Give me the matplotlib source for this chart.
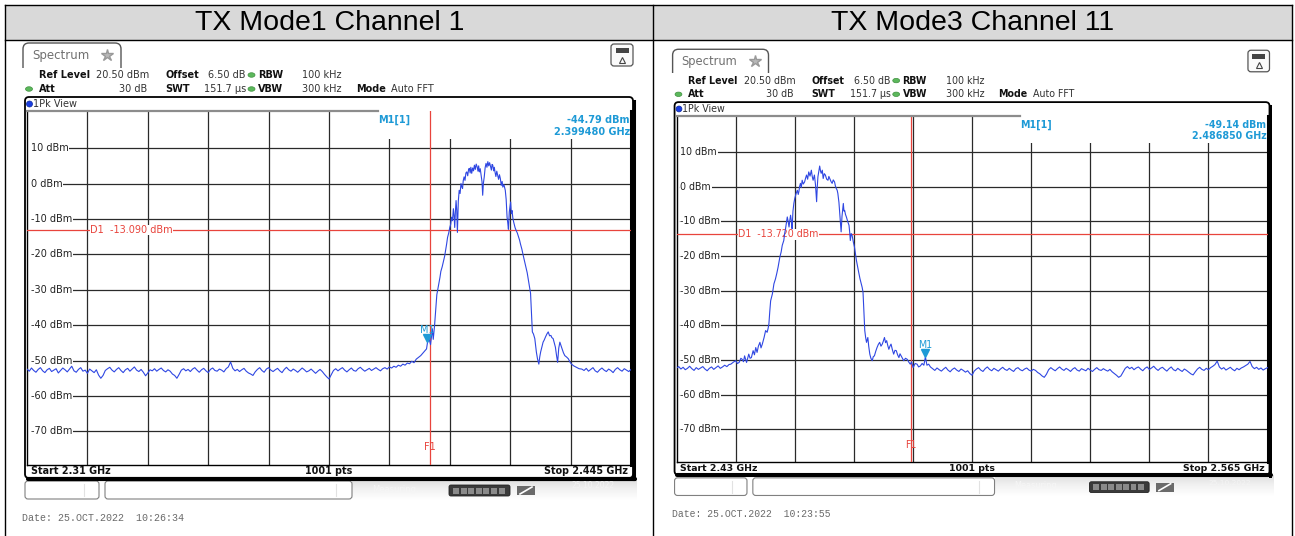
#!/usr/bin/env python3
"""Band-edge spectrum screenshots: TX Mode1 Channel 1 / TX Mode3 Channel 11."""

from __future__ import annotations

import matplotlib

matplotlib.use("Agg")
import matplotlib.pyplot as plt
import numpy as np
from matplotlib import transforms
from matplotlib.colors import LinearSegmentedColormap
from matplotlib.patches import Ellipse, FancyBboxPatch, Rectangle

W, H = 1295, 536
NOISE_STEP = 0.5  # MHz between read-off noise floor samples

LEVEL_TICKS = [10, 0, -10, -20, -30, -40, -50, -60, -70]
REF_LEVEL = 20.5
BOTTOM_LEVEL = -79.5

INFO_ROW1 = ["Ref Level", "20.50 dBm", "Offset", "6.50 dB", "RBW", "100 kHz"]
INFO_ROW2 = ["Att", "30 dB", "SWT", "151.7 µs", "VBW", "300 kHz", "Mode", "Auto FFT"]

# ---------------- TX Mode1 Channel 1 ----------------
CH1_TITLE = "TX Mode1 Channel 1"
CH1_SPAN = (2310.0, 2445.0)
CH1_FOOT = ["Start 2.31 GHz", "1001 pts", "Stop 2.445 GHz"]
CH1_D1 = -13.090
CH1_F1 = 2400.0
CH1_M1 = (2399.480, -44.79)
CH1_M1_TEXT = ["-44.79 dBm", "2.399480 GHz"]
CH1_DATE = "Date: 25.OCT.2022  10:26:34"

CH1_NOISE_LO_START = 2310.0
CH1_NOISE_LO = [
    -52.4, -53.0, -52.1, -52.8, -53.3, -52.5, -52.0, -52.9, -53.4, -52.6,
    -52.2, -53.1, -52.7, -52.3, -53.5, -52.8, -52.1, -52.6, -53.2, -52.4,
    -51.6, -52.9, -53.3, -52.5, -52.0, -53.0, -52.7, -53.6, -52.4, -52.9,
    -53.4, -52.6, -54.1, -55.0, -54.2, -52.8, -52.3, -51.9, -52.7, -53.2,
    -52.5, -52.0, -52.8, -53.4, -52.6, -52.2, -53.0, -52.4, -51.8, -52.7,
    -53.1, -52.5, -53.3, -54.3, -53.5, -52.6, -52.9, -52.3, -53.0, -52.5,
    -52.1, -52.8, -53.2, -52.6, -53.0, -53.8, -54.2, -55.0, -53.9, -52.7,
    -52.3, -52.9, -52.5, -53.1, -52.4, -52.0, -52.7, -53.3, -52.6, -52.2,
    -52.9, -53.4, -52.5, -52.1, -52.8, -53.0, -52.4, -52.7, -53.2, -52.3,
    -51.8, -50.4, -52.2, -52.9, -52.5, -53.1, -52.6, -52.2, -53.0, -53.5,
    -53.8, -54.2, -53.2, -52.5, -52.0, -52.8, -53.3, -52.4, -52.0, -52.7,
    -53.1, -52.6, -52.2, -52.9, -53.4, -52.5, -51.9, -52.6, -53.0, -52.4,
    -52.8, -53.3, -52.7, -52.1, -52.6, -53.2, -52.9, -52.4, -53.0, -53.6,
    -53.0, -52.5, -53.1, -53.9, -54.6, -55.2, -54.0, -52.8, -52.3, -52.9,
    -52.4, -52.0, -52.7, -53.2, -52.6, -52.1, -52.8, -53.0, -52.3, -51.9,
    -52.5, -53.0, -52.6, -52.2, -52.8, -52.4, -52.0, -52.5, -52.9, -52.3,
    -52.0, -52.4, -51.8, -52.1, -51.6, -51.9, -51.3, -51.6, -51.0, -51.3,
    -50.7, -50.9,
]
CH1_EDGE = [
    (2396.0, -50.2), (2396.5, -50.6), (2397.0, -49.6), (2397.6, -49.0), (2398.0, -48.6),
    (2398.35, -48.1), (2398.8, -47.5), (2399.3, -46.7), (2399.5, -45.0), (2399.85, -43.8),
    (2400.2, -45.5), (2400.6, -41.0), (2400.8, -44.0), (2401.1, -40.0), (2401.4, -35.0),
    (2401.6, -31.4), (2401.8, -30.0), (2402.1, -28.0), (2402.3, -26.5), (2402.5, -24.8),
    (2402.8, -23.5), (2403.1, -21.9), (2403.35, -20.5), (2403.6, -18.6), (2403.8, -17.0),
    (2404.0, -15.2), (2404.25, -14.0), (2404.5, -12.4), (2404.7, -11.5), (2404.9, -9.5),
    (2405.1, -10.5), (2405.3, -7.1), (2405.45, -9.0), (2405.6, -12.4), (2405.75, -8.0),
    (2405.9, -4.8), (2406.05, -7.5), (2406.2, -13.8), (2406.4, -5.0), (2406.6, -1.9),
    (2406.8, -2.8), (2407.0, 0.0), (2407.2, -1.0), (2407.35, -1.4), (2407.5, 0.8),
    (2407.7, 1.9), (2407.9, 0.9), (2408.1, 3.0), (2408.3, 3.3), (2408.5, 2.2),
    (2408.7, 4.0), (2408.85, 4.3), (2409.05, 3.0), (2409.2, 4.6), (2409.4, 2.9),
    (2409.6, 4.4), (2409.8, 3.6), (2410.0, 5.2), (2410.2, 4.0), (2410.4, 5.5),
    (2410.6, 4.8), (2410.8, 3.5), (2410.95, 5.0), (2411.1, 3.3), (2411.3, 4.2),
    (2411.5, 2.4), (2411.7, 0.5), (2411.85, -3.3), (2412.0, 0.0), (2412.2, 1.9),
    (2412.4, 4.5), (2412.6, 5.7), (2412.8, 4.6), (2413.0, 6.2), (2413.2, 5.0),
    (2413.4, 5.9), (2413.6, 4.8), (2413.8, 3.8), (2413.95, 5.4), (2414.1, 5.2),
    (2414.3, 3.6), (2414.45, 4.6), (2414.6, 3.3), (2414.8, 2.0), (2415.0, 3.5),
    (2415.2, 2.4), (2415.4, 1.2), (2415.6, 2.5), (2415.8, 1.4), (2416.0, -0.5),
    (2416.2, 0.6), (2416.35, -1.0), (2416.6, -0.3), (2416.9, -1.9), (2417.1, -4.5),
    (2417.3, -9.5), (2417.45, -11.0), (2417.6, -12.9), (2417.8, -8.0), (2418.1, -5.2),
    (2418.25, -8.5), (2418.4, -7.6), (2418.6, -9.8), (2418.8, -11.0), (2419.1, -12.5),
    (2419.35, -13.3), (2419.6, -14.0), (2419.9, -15.2), (2420.1, -16.0), (2420.3, -17.1),
    (2420.6, -18.5), (2420.85, -20.0), (2421.0, -20.8), (2421.2, -21.9), (2421.5, -23.5),
    (2421.8, -25.2), (2422.1, -27.5), (2422.35, -29.5), (2422.55, -31.0), (2422.7, -35.2),
    (2422.85, -39.0), (2422.95, -41.9), (2423.2, -42.5), (2423.5, -43.8), (2423.7, -46.0),
    (2423.85, -47.6), (2424.1, -49.5), (2424.4, -51.0), (2424.6, -49.0), (2424.8, -47.6),
    (2425.1, -46.0), (2425.35, -44.8), (2425.6, -44.2), (2425.9, -43.3), (2426.2, -42.5),
    (2426.5, -41.9), (2426.8, -43.0), (2427.1, -42.9), (2427.3, -43.5), (2427.6, -43.8),
    (2427.85, -45.0), (2428.1, -46.2), (2428.35, -48.5), (2428.6, -50.5), (2428.85, -46.5),
    (2429.1, -44.8), (2429.35, -45.8), (2429.6, -46.7), (2429.9, -47.8), (2430.2, -48.6),
    (2430.6, -49.0), (2431.0, -49.5), (2431.35, -50.4), (2431.7, -51.0), (2432.2, -51.5),
    (2432.8, -51.9), (2433.4, -52.3), (2434.0, -52.4),
]
CH1_NOISE_HI_START = 2434.5
CH1_NOISE_HI = [
    -52.8, -52.2, -53.0, -52.5, -52.0, -52.9, -53.3, -52.6, -52.1, -52.7,
    -53.1, -52.4, -52.8, -53.4, -52.5, -52.0, -52.6, -53.0, -52.3, -52.7,
    -53.1, -52.5,
]

# ---------------- TX Mode3 Channel 11 ----------------
CH11_TITLE = "TX Mode3 Channel 11"
CH11_SPAN = (2430.0, 2565.0)
CH11_FOOT = ["Start 2.43 GHz", "1001 pts", "Stop 2.565 GHz"]
CH11_D1 = -13.720
CH11_F1 = 2483.5
CH11_M1 = (2486.850, -49.14)
CH11_M1_TEXT = ["-49.14 dBm", "2.486850 GHz"]
CH11_DATE = "Date: 25.OCT.2022  10:23:55"

CH11_NOISE_LO_START = 2430.0
CH11_NOISE_LO = [
    -52.3, -51.9, -52.6, -52.1, -52.8, -52.4, -51.8, -52.5, -53.0, -52.2,
    -52.7, -52.3, -51.9, -52.6, -53.1, -52.4, -52.0, -52.7, -52.2, -51.7,
    -52.4, -52.0, -51.5, -51.9, -51.3,
]
CH11_EDGE = [
    (2442.4, -51.2), (2443.0, -50.6), (2443.5, -50.2), (2443.9, -51.0), (2444.3, -50.7),
    (2444.7, -49.5), (2445.0, -49.8), (2445.3, -50.5), (2445.55, -48.8), (2446.0, -50.7),
    (2446.5, -48.3), (2446.8, -49.5), (2447.1, -49.3), (2447.5, -47.3), (2447.8, -48.5),
    (2448.1, -46.4), (2448.4, -47.8), (2448.7, -46.0), (2449.05, -44.9), (2449.3, -46.5),
    (2449.6, -45.4), (2450.0, -43.5), (2450.35, -41.5), (2450.7, -42.0), (2450.9, -41.0),
    (2451.1, -39.6), (2451.3, -36.0), (2451.5, -32.9), (2451.9, -30.9), (2452.25, -28.0),
    (2452.6, -26.6), (2452.9, -25.0), (2453.2, -23.2), (2453.6, -20.3), (2453.9, -18.8),
    (2454.15, -16.9), (2454.5, -15.5), (2454.7, -13.5), (2454.9, -12.1), (2455.1, -10.5),
    (2455.3, -8.7), (2455.5, -10.0), (2455.7, -11.6), (2455.9, -9.5), (2456.05, -8.2),
    (2456.25, -10.0), (2456.4, -12.1), (2456.6, -7.0), (2456.8, -4.8), (2457.0, -3.4),
    (2457.3, -2.0), (2457.6, -1.0), (2457.8, -2.2), (2457.95, -1.4), (2458.1, 0.0),
    (2458.3, 1.0), (2458.5, -0.2), (2458.7, 1.9), (2458.95, 0.8), (2459.25, 1.4),
    (2459.5, 2.6), (2459.7, 3.4), (2459.95, 2.2), (2460.2, 4.3), (2460.5, 3.1),
    (2460.8, 4.8), (2461.0, 3.0), (2461.2, 1.9), (2461.5, 3.4), (2461.75, 0.5),
    (2462.0, -4.3), (2462.15, 0.0), (2462.3, 2.9), (2462.5, 4.5), (2462.7, 6.0),
    (2462.9, 4.5), (2463.05, 3.9), (2463.3, 4.8), (2463.5, 2.4), (2463.75, 3.8),
    (2464.0, 3.4), (2464.3, 2.2), (2464.6, 1.9), (2464.8, 3.0), (2465.0, 2.4),
    (2465.3, 1.5), (2465.55, 1.0), (2465.8, 2.0), (2466.1, 1.4), (2466.3, 0.2),
    (2466.5, -0.5), (2466.7, -1.0), (2466.85, -1.9), (2467.1, -4.5), (2467.3, -7.7),
    (2467.45, -10.5), (2467.6, -13.0), (2467.8, -8.5), (2468.1, -4.8), (2468.25, -7.0),
    (2468.4, -6.8), (2468.6, -8.0), (2468.8, -8.7), (2469.1, -10.0), (2469.4, -11.1),
    (2469.55, -13.0), (2469.7, -15.5), (2469.9, -13.5), (2470.1, -14.0), (2470.4, -16.0),
    (2470.65, -17.4), (2470.9, -19.5), (2471.1, -21.3), (2471.35, -23.0), (2471.6, -24.6),
    (2471.9, -26.5), (2472.2, -28.0), (2472.4, -29.0), (2472.6, -30.4), (2472.8, -36.0),
    (2473.0, -41.5), (2473.2, -43.5), (2473.4, -44.9), (2473.7, -43.5), (2473.9, -46.0),
    (2474.15, -48.3), (2474.4, -49.5), (2474.7, -50.2), (2474.95, -49.0), (2475.2, -48.8),
    (2475.5, -47.5), (2475.8, -46.4), (2476.1, -45.5), (2476.4, -44.9), (2476.7, -46.0),
    (2477.0, -45.4), (2477.25, -44.5), (2477.5, -43.5), (2477.75, -45.0), (2478.0, -44.4),
    (2478.25, -45.8), (2478.5, -46.9), (2478.75, -46.0), (2479.0, -45.4), (2479.3, -47.0),
    (2479.6, -48.3), (2479.9, -47.2), (2480.2, -47.3), (2480.5, -48.5), (2480.8, -49.3),
    (2481.05, -48.2), (2481.3, -48.8), (2481.6, -49.5), (2481.9, -50.2), (2482.3, -49.5),
    (2482.7, -49.8), (2483.05, -50.6), (2483.4, -51.2), (2483.7, -50.5), (2484.05, -52.2),
    (2484.5, -51.0), (2484.95, -51.2), (2485.3, -52.0), (2485.7, -51.7), (2486.1, -51.0),
    (2486.5, -51.5), (2486.85, -49.1), (2487.2, -51.5), (2487.6, -51.2), (2488.0, -52.0),
]
CH11_NOISE_HI_START = 2488.5
CH11_NOISE_HI = [
    -52.5, -53.0, -52.3, -52.8, -53.2, -52.6, -52.1, -52.9, -53.4, -52.7,
    -52.3, -52.9, -53.3, -52.6, -53.0, -53.5, -53.1, -53.9, -54.4, -53.2,
    -52.6, -52.2, -52.9, -53.3, -52.5, -52.0, -52.7, -53.1, -52.4, -52.8,
    -53.2, -52.6, -52.1, -52.7, -53.0, -52.4, -52.9, -53.3, -52.5, -52.2,
    -52.8, -53.1, -52.6, -52.3, -52.9, -53.2, -52.7, -53.0, -53.6, -54.0,
    -54.6, -55.0, -54.1, -52.8, -52.2, -52.7, -53.1, -52.5, -52.0, -52.6,
    -53.0, -52.4, -52.8, -53.3, -52.6, -52.2, -52.9, -53.2, -52.5, -52.8,
    -53.1, -52.4, -52.9, -53.3, -52.7, -52.2, -52.8, -53.0, -52.5, -52.9,
    -53.2, -52.7, -53.4, -53.9, -54.4, -55.0, -54.6, -53.5, -52.4, -51.9,
    -52.5, -52.1, -52.8, -52.3, -52.0, -52.6, -53.1, -52.4, -52.0, -52.7,
    -52.3, -51.8, -52.5, -53.0, -52.4, -52.1, -52.7, -53.2, -52.5, -52.0,
    -52.8, -53.1, -52.4, -52.9, -53.3, -52.6, -53.0, -53.5, -54.0, -54.3,
    -53.4, -52.6, -52.1, -52.7, -53.0, -52.4, -52.8, -52.2, -51.8, -51.3,
    -50.3, -52.0, -52.6, -52.2, -52.9, -52.5, -52.1, -52.7, -53.1, -52.4,
    -52.8, -52.3, -52.0, -51.6, -51.2, -50.4, -51.9, -52.5, -52.1, -52.7,
    -52.3, -52.9, -52.5, -52.2,
]

TRACE = "#2f47e2"
RED = "#e8443c"
MARK = "#1e9ad6"
GRID = "#2a2a2a"


def _trace(lo_start, lo, edge, hi_start, hi):
    ef, el = np.array(edge).T
    f = np.concatenate([lo_start + NOISE_STEP * np.arange(len(lo)), ef,
                        hi_start + NOISE_STEP * np.arange(len(hi))])
    lvl = np.concatenate([lo, el, hi])
    return f, lvl


def _panel(fig, cv, ox, oy, s, span, freq, lvl, d1, f1, m1, m1_text, foot, date):
    X = lambda v: ox + s * v
    Y = lambda v: oy + s * v

    # "Spectrum" tab
    cv.add_patch(FancyBboxPatch((X(23), Y(43)), s * 98, s * 32,
                                boxstyle=f"round,pad=0,rounding_size={6 * s}",
                                fc="white", ec="#555555", lw=1.0, zorder=2))
    cv.add_patch(Rectangle((X(21), Y(67.5)), s * 104, s * 9, fc="white", ec="none", zorder=3))
    cv.text(X(32), Y(56), "Spectrum", fontsize=8.5 * s, color="#707070", va="center", zorder=4)
    cv.plot(X(107), Y(55), marker="*", ms=9 * s, color="#b8b8b8", mec="#999999", zorder=4)

    # small icon top right
    cv.add_patch(FancyBboxPatch((X(611), Y(44)), s * 22, s * 22,
                                boxstyle=f"round,pad=0,rounding_size={3 * s}",
                                fc="#fafafa", ec="#555555", lw=0.9, zorder=2))
    cv.add_patch(Rectangle((X(615.5), Y(48)), s * 13, s * 5, fc="#444444", ec="none", zorder=3))
    cv.plot(X(622), Y(59.5), marker="^", ms=5 * s, mfc="none", mec="#444444", mew=0.8, zorder=3)

    # setting rows
    fs = 7 * s
    bold = dict(fontsize=fs, fontweight="bold", color="#111111", va="center", zorder=4)
    norm = dict(fontsize=fs, color="#333333", va="center", zorder=4)
    r1 = INFO_ROW1
    cv.text(X(39), Y(75), r1[0], **bold)
    cv.text(X(96), Y(75), r1[1], **norm)
    cv.text(X(165), Y(75), r1[2], **bold)
    cv.text(X(208), Y(75), r1[3], **norm)
    cv.text(X(258), Y(75), r1[4], **bold)
    cv.text(X(302), Y(75), r1[5], **norm)
    r2 = INFO_ROW2
    cv.text(X(39), Y(89), r2[0], **bold)
    cv.text(X(147), Y(89), r2[1], ha="right", **norm)
    cv.text(X(165), Y(89), r2[2], **bold)
    cv.text(X(204), Y(89), r2[3], **norm)
    cv.text(X(258), Y(89), r2[4], **bold)
    cv.text(X(302), Y(89), r2[5], **norm)
    cv.text(X(356), Y(89), r2[6], **bold)
    cv.text(X(391), Y(89), r2[7], **norm)
    for gx, gy in [(251.5, 75), (29, 89), (251.5, 89)]:
        cv.add_patch(Ellipse((X(gx), Y(gy)), 7 * s, 4.5 * s, fc="#5cb85c", ec="#3d8f3d", lw=0.5, zorder=4))

    # trace window frame
    cv.add_patch(FancyBboxPatch((X(25), Y(97)), s * 608, s * 381,
                                boxstyle=f"round,pad=0,rounding_size={4 * s}",
                                fc="white", ec="black", lw=1.3, zorder=2))
    cv.plot([X(28), X(634.5)], [Y(478.5), Y(478.5)], color="black", lw=3 * s, zorder=3,
            solid_capstyle="round")
    cv.plot([X(633.5), X(633.5)], [Y(101), Y(479)], color="black", lw=2.2 * s, zorder=3)
    cv.add_patch(Ellipse((X(29.5), Y(104)), 6 * s, 6 * s, fc="#1a3de0", ec="#0d2aa0", lw=0.5, zorder=4))
    cv.text(X(33), Y(104), "1Pk View", fontsize=7 * s, color="#333333", va="center", zorder=4)

    # footer
    fbold = dict(fontsize=6.9 * s, fontweight="bold", color="#111111", va="center", zorder=4)
    cv.text(X(31), Y(471), foot[0], ha="left", **fbold)
    cv.text(X(329), Y(471), foot[1], ha="center", **fbold)
    cv.text(X(628), Y(471), foot[2], ha="right", **fbold)

    # status bar
    for bx, bw, sep in [(25, 74, 84), (105, 247, 336)]:
        cv.add_patch(FancyBboxPatch((X(bx), Y(481)), s * bw, s * 18,
                                    boxstyle=f"round,pad=0,rounding_size={3 * s}",
                                    fc="white", ec="#808080", lw=0.8, zorder=2))
        cv.plot([X(sep), X(sep)], [Y(484), Y(496)], color="#e2e2e2", lw=0.8, zorder=3)
    grad = np.linspace(0, 1, 40)[:, None] * np.ones((1, 60))
    cmap = LinearSegmentedColormap.from_list("bar", ["#dedede", "#f2f2f2", "#ffffff"])
    cv.imshow(grad, extent=(X(352), X(637), Y(500), Y(479)), cmap=cmap, aspect="auto", zorder=1)
    cv.text(X(372), Y(489), "Measuring...", fontsize=6 * s, color="#f6f6f6", va="center", zorder=3)
    cv.add_patch(FancyBboxPatch((X(449), Y(485)), s * 61, s * 11,
                                boxstyle=f"round,pad=0,rounding_size={2 * s}",
                                fc="#3a3a3a", ec="#222222", lw=0.6, zorder=3))
    for k in range(7):
        cv.add_patch(Rectangle((X(453 + 7.6 * k), Y(487.5)), s * 6, s * 6,
                               fc="#8a8a8a", ec="none", zorder=4))
    cv.add_patch(Rectangle((X(517), Y(486)), s * 18, s * 9, fc="#6a6a6a", ec="none", zorder=3))
    cv.plot([X(520), X(532)], [Y(494), Y(487)], color="white", lw=1.2 * s, zorder=4)
    cv.text(X(571), Y(486), "25.10.2022", fontsize=5.5 * s, color="#f4f4f4", va="center", zorder=3)

    cv.text(X(22), Y(518), date, fontsize=7.2 * s, family="Liberation Mono", color="#6a6a6a",
            va="center", zorder=4)

    # spectrum diagram
    f0, f1_ = span
    ax = fig.add_axes([X(27) / W, 1 - Y(465) / H, s * 604 / W, s * 354 / H])
    ax.set_xlim(f0, f1_)
    ax.set_ylim(BOTTOM_LEVEL, REF_LEVEL)
    ax.set_xticks([])
    ax.set_yticks([])
    ax.set_facecolor("white")
    ax.spines["top"].set_visible(False)
    for side in ("left", "bottom"):
        ax.spines[side].set_linewidth(1.0)
        ax.spines[side].set_color("black")
    ax.spines["right"].set_linewidth(2.2)

    for lv in LEVEL_TICKS:
        ax.axhline(lv, xmin=0.006, color=GRID, lw=0.9, zorder=1)
    for k in range(1, 10):
        ax.axvline(f0 + k * (f1_ - f0) / 10, color=GRID, lw=0.9, zorder=1)

    box_x = (378 - 27) / 604
    box_f = f0 + box_x * (f1_ - f0)
    box_bottom = REF_LEVEL - (139 - 111) / 354 * (REF_LEVEL - BOTTOM_LEVEL)
    ax.add_patch(Rectangle((box_f, box_bottom), f1_ - box_f, REF_LEVEL - box_bottom + 1,
                           fc="white", ec="none", zorder=2))
    ax.plot([f0, box_f], [REF_LEVEL, REF_LEVEL], color="#8c8c8c", lw=1.6, clip_on=False, zorder=5)

    ylab = transforms.blended_transform_factory(ax.transAxes, ax.transData)
    for lv in LEVEL_TICKS:
        ax.text(0.0065, lv, f"{lv} dBm", transform=ylab, fontsize=7 * s, color="#222222",
                va="center", ha="left", zorder=3,
                bbox=dict(fc="white", ec="none", pad=0.4))

    ax.axhline(d1, color=RED, lw=0.9, zorder=3)
    ax.text(0.104, d1, f"D1  {d1:.3f} dBm", transform=ylab, fontsize=7 * s, color=RED,
            va="center", ha="left", zorder=3, bbox=dict(fc="white", ec="none", pad=0.2))
    ax.axvline(f1, color=RED, lw=0.9, zorder=3)
    ax.text(f1, -74.4, "F1", fontsize=7 * s, color=RED, ha="center", va="center", zorder=3)

    ax.plot(freq, lvl, color=TRACE, lw=0.8, zorder=4)

    mf, ml = m1
    ax.plot(mf, ml, marker="v", ms=6 * s, color=MARK, zorder=6,
            transform=transforms.offset_copy(ax.transData, fig=fig, x=0, y=2.8 * s, units="points"))
    ax.text(mf, ml, "M1", fontsize=7 * s, color=MARK, ha="center", va="center", zorder=6,
            transform=transforms.offset_copy(ax.transData, fig=fig, x=0, y=8.5 * s, units="points"))
    mbold = dict(fontsize=7 * s, fontweight="bold", color=MARK, transform=ax.transAxes, zorder=6,
                 va="center")
    ax.text(box_x, (465 - 120) / 354, "M1[1]", ha="left", **mbold)
    ax.text(0.998, (465 - 120) / 354, m1_text[0], ha="right", **mbold)
    ax.text(0.998, (465 - 132) / 354, m1_text[1], ha="right", **mbold)
    return ax


def main() -> None:
    plt.rcParams["font.family"] = "DejaVu Sans"
    fig = plt.figure(figsize=(W / 100, H / 100), dpi=100)
    cv = fig.add_axes([0, 0, 1, 1])
    cv.axis("off")

    # table header
    cv.add_patch(Rectangle((5, 5), 1287, 35, fc="#d9d9d9", ec="none", zorder=0))
    for x in (5, 653, 1292):
        cv.plot([x, x], [5, H + 2], color="black", lw=1.0, zorder=5)
    for y in (5, 40):
        cv.plot([5, 1292], [y, y], color="black", lw=1.0, zorder=5)
    title = dict(fontsize=20.5, family="Liberation Sans", color="black", ha="center", va="center")
    cv.text(329.5, 22.5, CH1_TITLE, **title)
    cv.text(972.5, 22.5, CH11_TITLE, **title)

    f, lvl = _trace(CH1_NOISE_LO_START, CH1_NOISE_LO, CH1_EDGE, CH1_NOISE_HI_START, CH1_NOISE_HI)
    _panel(fig, cv, 0.0, 0.0, 1.0, CH1_SPAN, f, lvl, CH1_D1, CH1_F1, CH1_M1, CH1_M1_TEXT,
           CH1_FOOT, CH1_DATE)
    f, lvl = _trace(CH11_NOISE_LO_START, CH11_NOISE_LO, CH11_EDGE, CH11_NOISE_HI_START, CH11_NOISE_HI)
    _panel(fig, cv, 650.1, 7.2, 0.9785, CH11_SPAN, f, lvl, CH11_D1, CH11_F1, CH11_M1,
           CH11_M1_TEXT, CH11_FOOT, CH11_DATE)

    cv.set_xlim(0, W)
    cv.set_ylim(H, 0)
    fig.savefig("out.png", dpi=100)
    plt.close(fig)


if __name__ == "__main__":
    main()
